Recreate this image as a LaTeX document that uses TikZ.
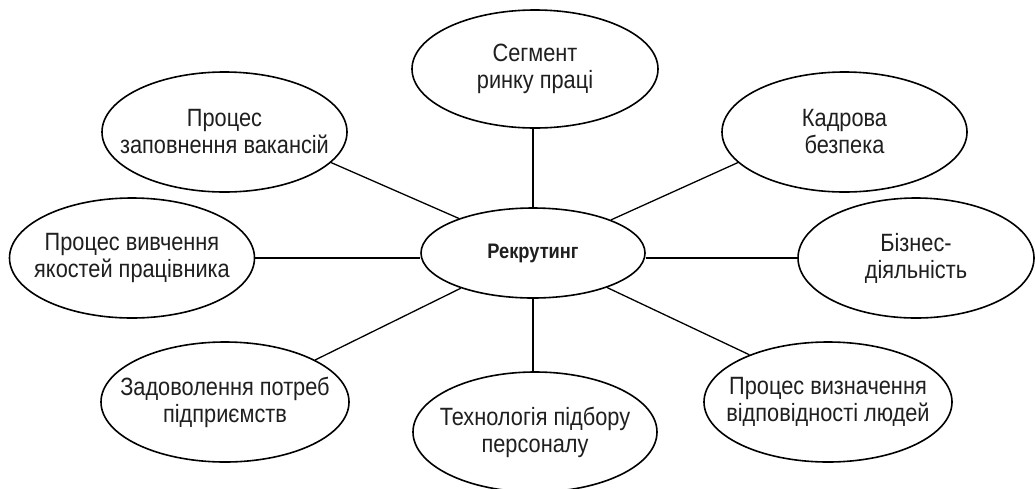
\documentclass[tikz,border=0pt]{standalone}
\usepackage{fontspec}
\setmainfont{Liberation Sans}[FakeStretch=0.87]
\usetikzlibrary{shapes.geometric}
\tikzset{
  ell/.style={draw=black, line width=1.6pt, ellipse, inner sep=0pt, fill=white},
  txt/.style={align=center, inner sep=0pt, text=black!88, font=\fontsize{25}{27}\selectfont},
  conn/.style={draw=black, line width=1.3pt}
}
\begin{document}
\begin{tikzpicture}[x=1pt,y=-1pt]
\useasboundingbox (0,0) rectangle (1035,488);
% central node
\node[ell, minimum width=224pt, minimum height=90pt,
  label={[txt, font=\fontsize{21}{24}\selectfont\bfseries]center:Рекрутинг}] (rek) at (533,253) {};
% outer nodes
\node[ell, minimum width=246pt, minimum height=118pt,
  label={[txt]center:Сегмент\\ринку праці}] (seg) at (535,69) {};
\node[ell, minimum width=245pt, minimum height=120pt,
  label={[txt]center:Процес\\заповнення вакансій}] (vac) at (224.5,132) {};
\node[ell, minimum width=245pt, minimum height=120pt,
  label={[txt]center:Кадрова\\безпека}] (kadr) at (844.5,132) {};
\node[ell, minimum width=245pt, minimum height=120pt,
  label={[txt]center:Процес вивчення\\якостей працівника}] (vyv) at (132,258) {};
\node[ell, minimum width=236pt, minimum height=120pt,
  label={[txt]center:Бізнес-\\діяльність}] (biz) at (916,258) {};
\node[ell, minimum width=248pt, minimum height=120pt,
  label={[txt]center:Задоволення потреб\\підприємств}] (zad) at (225,402) {};
\node[ell, minimum width=244pt, minimum height=120pt,
  label={[txt]center:Технологія підбору\\персоналу}] (tech) at (535,432) {};
\node[ell, minimum width=248pt, minimum height=120pt,
  label={[txt]center:Процес визначення\\відповідності людей}] (proc) at (828,402) {};
% connectors
\draw[conn] (rek.north) -- (rek.north |- seg.south);
\draw[conn] (rek.south) -- (rek.south |- tech.north);
\draw[conn] (vyv.east) -- (vyv.east -| rek.west);
\draw[conn] (biz.west -| rek.east) -- (biz.west);
\draw[conn] (rek.155.9) -- (vac.-16);
\draw[conn] (rek.23.3) -- (kadr.196.2);
\draw[conn] (rek.206.6) -- (zad.25.8);
\draw[conn] (rek.-25.9) -- (proc.149.9);
\end{tikzpicture}
\end{document}
